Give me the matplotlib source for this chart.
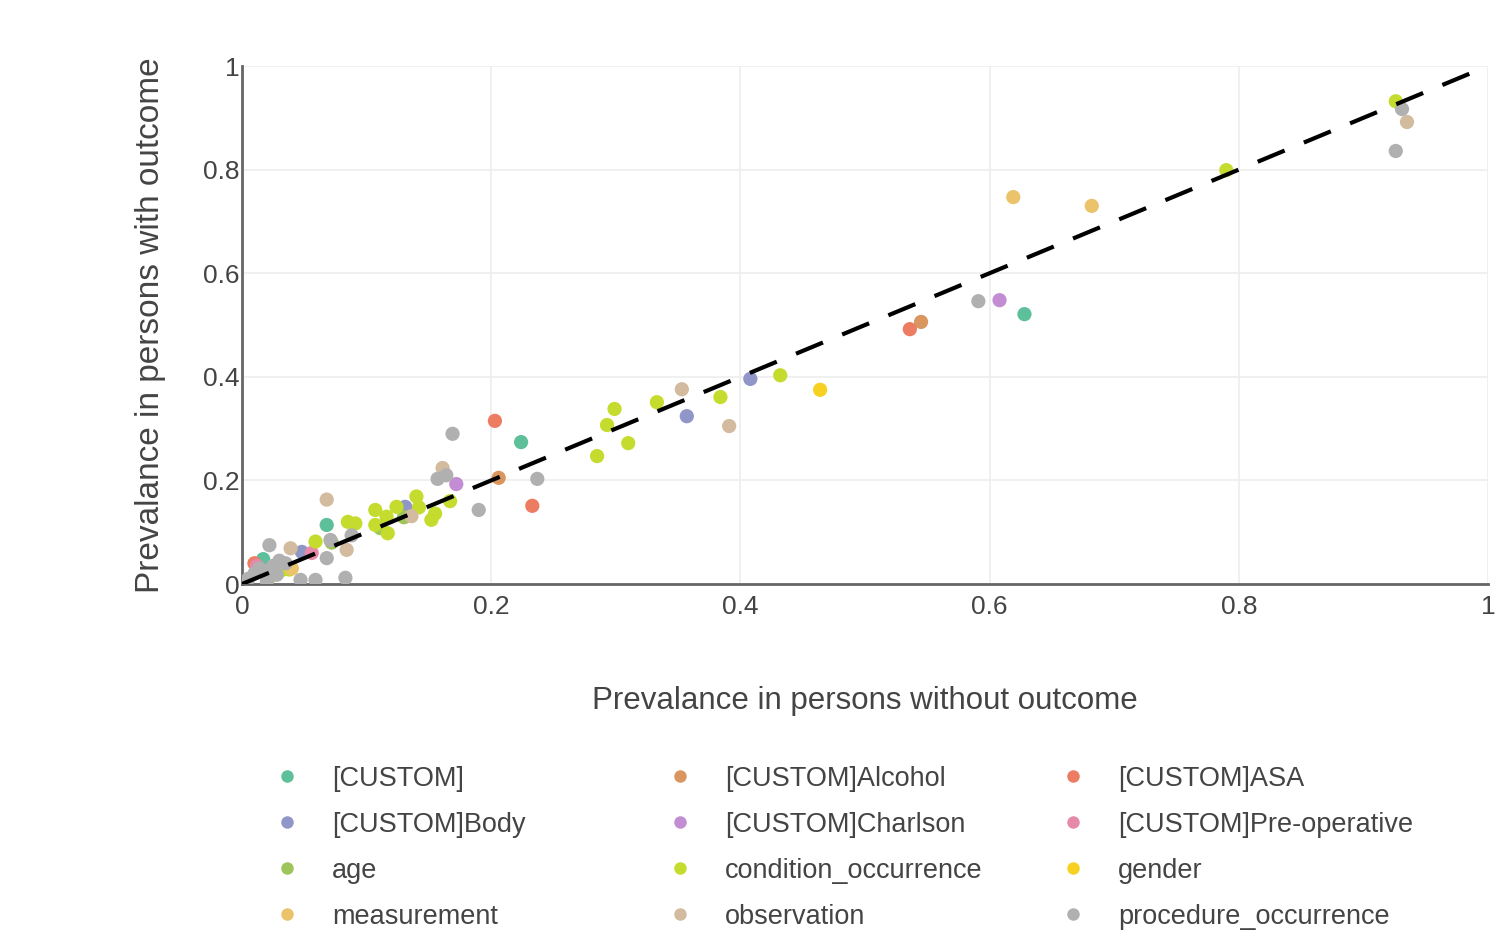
import numpy as np
import matplotlib.pyplot as plt
from matplotlib.lines import Line2D

plt.rcParams["font.family"] = ["Liberation Sans", "DejaVu Sans"]

# categories in legend order (row by row, 3 per row)
categories = [
    "[CUSTOM]", "[CUSTOM]Alcohol", "[CUSTOM]ASA",
    "[CUSTOM]Body", "[CUSTOM]Charlson", "[CUSTOM]Pre-operative",
    "age", "condition_occurrence", "gender",
    "measurement", "observation", "procedure_occurrence",
]
colors = [
    "#5dc09a", "#d9965f", "#ec7c62",
    "#9196c8", "#c38dd3", "#e78aaa",
    "#9ec55b", "#c5dc2e", "#f7d121",
    "#ebc36b", "#d2bb9e", "#b0b0b0",
]

# (prevalence without outcome, prevalence with outcome)
custom = [(0.628, 0.521), (0.224, 0.274), (0.068, 0.114), (0.017, 0.048)]
alcohol = [(0.545, 0.506), (0.206, 0.205)]
asa = [(0.536, 0.492), (0.203, 0.315), (0.233, 0.151), (0.010, 0.040)]
body = [(0.408, 0.396), (0.357, 0.324), (0.131, 0.149), (0.048, 0.062)]
charlson = [(0.608, 0.548), (0.172, 0.193)]
preop = [(0.056, 0.060), (0.012, 0.035)]
age = [(0.111, 0.108), (0.130, 0.129), (0.072, 0.080)]
condition = [(0.926, 0.932), (0.790, 0.799), (0.432, 0.403), (0.384, 0.361),
             (0.333, 0.351), (0.299, 0.338), (0.293, 0.307), (0.310, 0.272),
             (0.285, 0.247), (0.167, 0.160), (0.140, 0.169), (0.142, 0.148),
             (0.152, 0.124), (0.155, 0.136), (0.124, 0.149), (0.107, 0.143),
             (0.116, 0.130), (0.117, 0.098), (0.107, 0.114), (0.085, 0.120),
             (0.091, 0.117), (0.059, 0.082), (0.023, 0.015), (0.032, 0.027),
             (0.038, 0.028)]
gender = [(0.464, 0.375)]
measurement = [(0.619, 0.747), (0.682, 0.730), (0.040, 0.030)]
observation = [(0.935, 0.892), (0.353, 0.376), (0.391, 0.305), (0.161, 0.224),
               (0.136, 0.131), (0.068, 0.163), (0.039, 0.069), (0.084, 0.066),
               (0.024, 0.026)]
procedure = [(0.931, 0.917), (0.926, 0.836), (0.591, 0.546), (0.237, 0.203),
             (0.169, 0.290), (0.190, 0.143), (0.157, 0.203), (0.164, 0.210),
             (0.022, 0.075), (0.068, 0.050), (0.071, 0.085), (0.088, 0.094),
             (0.047, 0.008), (0.059, 0.008), (0.083, 0.012), (0.010, 0.020),
             (0.018, 0.025), (0.025, 0.035), (0.030, 0.045), (0.005, 0.010),
             (0.028, 0.018), (0.014, 0.030), (0.035, 0.040), (0.020, 0.005)]

series = [custom, alcohol, asa, body, charlson, preop,
          age, condition, gender, measurement, observation, procedure]

ticks = [0, 0.2, 0.4, 0.6, 0.8, 1]
tick_labels = ["0", "0.2", "0.4", "0.6", "0.8", "1"]

fig = plt.figure(figsize=(15.03, 9.34), dpi=100)
ax = fig.add_axes([0.161, 0.3747, 0.829, 0.5546])

for name, pts, c in zip(categories, series, colors):
    arr = np.array(pts)
    ax.scatter(arr[:, 0], arr[:, 1], s=105, color=c, edgecolors="none",
               label=name, zorder=3)

ax.plot([0, 1], [0, 1], color="black", lw=3, dashes=(7, 5), zorder=4)

ax.set_xlim(0, 1)
ax.set_ylim(0, 1)
ax.set_xticks(ticks, labels=tick_labels)
ax.set_yticks(ticks, labels=tick_labels)
ax.tick_params(length=0, labelsize=19, labelcolor="#444444")
ax.tick_params(axis="y", pad=2)
ax.tick_params(axis="x", pad=8)
ax.grid(True, color="#eeeeee", lw=1.2, zorder=0)
for side in ["top", "right"]:
    ax.spines[side].set_visible(False)
for side in ["left", "bottom"]:
    ax.spines[side].set_color("#666666")
    ax.spines[side].set_linewidth(2)

ax.set_xlabel("Prevalance in persons without outcome", fontsize=22.5,
              color="#444444", labelpad=48)
ax.set_ylabel("Prevalance in persons with outcome", fontsize=24,
              color="#444444", labelpad=26)

# legend: one block per column, entries run row by row
col_x = [0.1727, 0.4342, 0.6957]
for col in range(3):
    idx = [r * 3 + col for r in range(4)]
    handles = [Line2D([], [], marker="o", ls="none", markersize=9,
                      markerfacecolor=colors[i], markeredgecolor="none")
               for i in idx]
    fig.legend(handles, [categories[i] for i in idx],
               loc="upper left", bbox_to_anchor=(col_x[col], 0.1946),
               frameon=False, fontsize=19.5, labelcolor="#444444",
               borderpad=0, handlelength=1.0, handletextpad=1.17,
               labelspacing=0.74)

fig.savefig("out.png", dpi=100, facecolor="white")
